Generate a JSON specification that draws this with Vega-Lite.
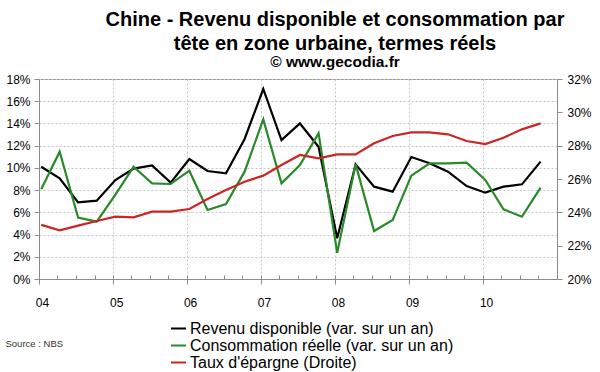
{
  "$schema": "https://vega.github.io/schema/vega-lite/v6.json",
  "width": 518,
  "height": 200,
  "autosize": "none",
  "padding": {"left": 39, "top": 79, "right": 43, "bottom": 93},
  "config": {
    "font": "Liberation Sans",
    "view": {"stroke": "#8c8c8c", "strokeWidth": 1},
    "axis": {
      "labelFont": "Liberation Sans",
      "labelFontSize": 12,
      "labelColor": "#000000",
      "domainColor": "#8c8c8c",
      "tickColor": "#8c8c8c",
      "gridColor": "#c4c4c4",
      "gridDash": [2, 2],
      "gridWidth": 1
    },
    "legend": {
      "labelFont": "Liberation Sans"
    }
  },
  "title": {
    "text": ["Chine - Revenu disponible et consommation par", "tête en zone urbaine, termes réels"],
    "subtitle": "© www.gecodia.fr",
    "anchor": "middle",
    "dx": 37,
    "font": "Liberation Sans",
    "fontSize": 20,
    "fontWeight": "bold",
    "color": "#000000",
    "lineHeight": 24.5,
    "subtitleFont": "Liberation Sans",
    "subtitleFontSize": 15.5,
    "subtitleFontWeight": "bold",
    "subtitleColor": "#000000",
    "subtitlePadding": 0.5,
    "offset": 3
  },
  "data": {
    "values": [
      {"date": "2004-01-12", "serie": "Revenu disponible (var. sur un an)", "axe": "gauche", "valeur": 10.1},
      {"date": "2004-04-12", "serie": "Revenu disponible (var. sur un an)", "axe": "gauche", "valeur": 9.06},
      {"date": "2004-07-12", "serie": "Revenu disponible (var. sur un an)", "axe": "gauche", "valeur": 6.9},
      {"date": "2004-10-12", "serie": "Revenu disponible (var. sur un an)", "axe": "gauche", "valeur": 7.05},
      {"date": "2005-01-12", "serie": "Revenu disponible (var. sur un an)", "axe": "gauche", "valeur": 8.9},
      {"date": "2005-04-12", "serie": "Revenu disponible (var. sur un an)", "axe": "gauche", "valeur": 9.93},
      {"date": "2005-07-12", "serie": "Revenu disponible (var. sur un an)", "axe": "gauche", "valeur": 10.23},
      {"date": "2005-10-12", "serie": "Revenu disponible (var. sur un an)", "axe": "gauche", "valeur": 8.67},
      {"date": "2006-01-12", "serie": "Revenu disponible (var. sur un an)", "axe": "gauche", "valeur": 10.8},
      {"date": "2006-04-12", "serie": "Revenu disponible (var. sur un an)", "axe": "gauche", "valeur": 9.72},
      {"date": "2006-07-12", "serie": "Revenu disponible (var. sur un an)", "axe": "gauche", "valeur": 9.51},
      {"date": "2006-10-12", "serie": "Revenu disponible (var. sur un an)", "axe": "gauche", "valeur": 12.6},
      {"date": "2007-01-12", "serie": "Revenu disponible (var. sur un an)", "axe": "gauche", "valeur": 17.1},
      {"date": "2007-04-12", "serie": "Revenu disponible (var. sur un an)", "axe": "gauche", "valeur": 12.5},
      {"date": "2007-07-12", "serie": "Revenu disponible (var. sur un an)", "axe": "gauche", "valeur": 14.0},
      {"date": "2007-10-12", "serie": "Revenu disponible (var. sur un an)", "axe": "gauche", "valeur": 11.9},
      {"date": "2008-01-12", "serie": "Revenu disponible (var. sur un an)", "axe": "gauche", "valeur": 3.66},
      {"date": "2008-04-12", "serie": "Revenu disponible (var. sur un an)", "axe": "gauche", "valeur": 10.32},
      {"date": "2008-07-12", "serie": "Revenu disponible (var. sur un an)", "axe": "gauche", "valeur": 8.31},
      {"date": "2008-10-12", "serie": "Revenu disponible (var. sur un an)", "axe": "gauche", "valeur": 7.86},
      {"date": "2009-01-12", "serie": "Revenu disponible (var. sur un an)", "axe": "gauche", "valeur": 10.98},
      {"date": "2009-04-12", "serie": "Revenu disponible (var. sur un an)", "axe": "gauche", "valeur": 10.41},
      {"date": "2009-07-12", "serie": "Revenu disponible (var. sur un an)", "axe": "gauche", "valeur": 9.66},
      {"date": "2009-10-12", "serie": "Revenu disponible (var. sur un an)", "axe": "gauche", "valeur": 8.37},
      {"date": "2010-01-12", "serie": "Revenu disponible (var. sur un an)", "axe": "gauche", "valeur": 7.77},
      {"date": "2010-04-12", "serie": "Revenu disponible (var. sur un an)", "axe": "gauche", "valeur": 8.31},
      {"date": "2010-07-12", "serie": "Revenu disponible (var. sur un an)", "axe": "gauche", "valeur": 8.52},
      {"date": "2010-10-12", "serie": "Revenu disponible (var. sur un an)", "axe": "gauche", "valeur": 10.56},

      {"date": "2004-01-12", "serie": "Consommation réelle (var. sur un an)", "axe": "gauche", "valeur": 8.07},
      {"date": "2004-04-12", "serie": "Consommation réelle (var. sur un an)", "axe": "gauche", "valeur": 11.46},
      {"date": "2004-07-12", "serie": "Consommation réelle (var. sur un an)", "axe": "gauche", "valeur": 5.52},
      {"date": "2004-10-12", "serie": "Consommation réelle (var. sur un an)", "axe": "gauche", "valeur": 5.16},
      {"date": "2005-01-12", "serie": "Consommation réelle (var. sur un an)", "axe": "gauche", "valeur": 7.6},
      {"date": "2005-04-12", "serie": "Consommation réelle (var. sur un an)", "axe": "gauche", "valeur": 10.1},
      {"date": "2005-07-12", "serie": "Consommation réelle (var. sur un an)", "axe": "gauche", "valeur": 8.61},
      {"date": "2005-10-12", "serie": "Consommation réelle (var. sur un an)", "axe": "gauche", "valeur": 8.55},
      {"date": "2006-01-12", "serie": "Consommation réelle (var. sur un an)", "axe": "gauche", "valeur": 9.75},
      {"date": "2006-04-12", "serie": "Consommation réelle (var. sur un an)", "axe": "gauche", "valeur": 6.21},
      {"date": "2006-07-12", "serie": "Consommation réelle (var. sur un an)", "axe": "gauche", "valeur": 6.75},
      {"date": "2006-10-12", "serie": "Consommation réelle (var. sur un an)", "axe": "gauche", "valeur": 9.66},
      {"date": "2007-01-12", "serie": "Consommation réelle (var. sur un an)", "axe": "gauche", "valeur": 14.37},
      {"date": "2007-04-12", "serie": "Consommation réelle (var. sur un an)", "axe": "gauche", "valeur": 8.61},
      {"date": "2007-07-12", "serie": "Consommation réelle (var. sur un an)", "axe": "gauche", "valeur": 10.26},
      {"date": "2007-10-12", "serie": "Consommation réelle (var. sur un an)", "axe": "gauche", "valeur": 13.11},
      {"date": "2008-01-12", "serie": "Consommation réelle (var. sur un an)", "axe": "gauche", "valeur": 2.35},
      {"date": "2008-04-12", "serie": "Consommation réelle (var. sur un an)", "axe": "gauche", "valeur": 10.32},
      {"date": "2008-07-12", "serie": "Consommation réelle (var. sur un an)", "axe": "gauche", "valeur": 4.32},
      {"date": "2008-10-12", "serie": "Consommation réelle (var. sur un an)", "axe": "gauche", "valeur": 5.31},
      {"date": "2009-01-12", "serie": "Consommation réelle (var. sur un an)", "axe": "gauche", "valeur": 9.3},
      {"date": "2009-04-12", "serie": "Consommation réelle (var. sur un an)", "axe": "gauche", "valeur": 10.41},
      {"date": "2009-07-12", "serie": "Consommation réelle (var. sur un an)", "axe": "gauche", "valeur": 10.41},
      {"date": "2009-10-12", "serie": "Consommation réelle (var. sur un an)", "axe": "gauche", "valeur": 10.47},
      {"date": "2010-01-12", "serie": "Consommation réelle (var. sur un an)", "axe": "gauche", "valeur": 8.91},
      {"date": "2010-04-12", "serie": "Consommation réelle (var. sur un an)", "axe": "gauche", "valeur": 6.27},
      {"date": "2010-07-12", "serie": "Consommation réelle (var. sur un an)", "axe": "gauche", "valeur": 5.61},
      {"date": "2010-10-12", "serie": "Consommation réelle (var. sur un an)", "axe": "gauche", "valeur": 8.22},

      {"date": "2004-01-12", "serie": "Taux d'épargne (Droite)", "axe": "droite", "valeur": 23.25},
      {"date": "2004-04-12", "serie": "Taux d'épargne (Droite)", "axe": "droite", "valeur": 22.92},
      {"date": "2004-07-12", "serie": "Taux d'épargne (Droite)", "axe": "droite", "valeur": 23.2},
      {"date": "2004-10-12", "serie": "Taux d'épargne (Droite)", "axe": "droite", "valeur": 23.48},
      {"date": "2005-01-12", "serie": "Taux d'épargne (Droite)", "axe": "droite", "valeur": 23.74},
      {"date": "2005-04-12", "serie": "Taux d'épargne (Droite)", "axe": "droite", "valeur": 23.7},
      {"date": "2005-07-12", "serie": "Taux d'épargne (Droite)", "axe": "droite", "valeur": 24.04},
      {"date": "2005-10-12", "serie": "Taux d'épargne (Droite)", "axe": "droite", "valeur": 24.04},
      {"date": "2006-01-12", "serie": "Taux d'épargne (Droite)", "axe": "droite", "valeur": 24.2},
      {"date": "2006-04-12", "serie": "Taux d'épargne (Droite)", "axe": "droite", "valeur": 24.8},
      {"date": "2006-07-12", "serie": "Taux d'épargne (Droite)", "axe": "droite", "valeur": 25.34},
      {"date": "2006-10-12", "serie": "Taux d'épargne (Droite)", "axe": "droite", "valeur": 25.84},
      {"date": "2007-01-12", "serie": "Taux d'épargne (Droite)", "axe": "droite", "valeur": 26.2},
      {"date": "2007-04-12", "serie": "Taux d'épargne (Droite)", "axe": "droite", "valeur": 26.84},
      {"date": "2007-07-12", "serie": "Taux d'épargne (Droite)", "axe": "droite", "valeur": 27.44},
      {"date": "2007-10-12", "serie": "Taux d'épargne (Droite)", "axe": "droite", "valeur": 27.24},
      {"date": "2008-01-12", "serie": "Taux d'épargne (Droite)", "axe": "droite", "valeur": 27.48},
      {"date": "2008-04-12", "serie": "Taux d'épargne (Droite)", "axe": "droite", "valeur": 27.48},
      {"date": "2008-07-12", "serie": "Taux d'épargne (Droite)", "axe": "droite", "valeur": 28.14},
      {"date": "2008-10-12", "serie": "Taux d'épargne (Droite)", "axe": "droite", "valeur": 28.58},
      {"date": "2009-01-12", "serie": "Taux d'épargne (Droite)", "axe": "droite", "valeur": 28.8},
      {"date": "2009-04-12", "serie": "Taux d'épargne (Droite)", "axe": "droite", "valeur": 28.8},
      {"date": "2009-07-12", "serie": "Taux d'épargne (Droite)", "axe": "droite", "valeur": 28.68},
      {"date": "2009-10-12", "serie": "Taux d'épargne (Droite)", "axe": "droite", "valeur": 28.28},
      {"date": "2010-01-12", "serie": "Taux d'épargne (Droite)", "axe": "droite", "valeur": 28.1},
      {"date": "2010-04-12", "serie": "Taux d'épargne (Droite)", "axe": "droite", "valeur": 28.48},
      {"date": "2010-07-12", "serie": "Taux d'épargne (Droite)", "axe": "droite", "valeur": 28.98},
      {"date": "2010-10-12", "serie": "Taux d'épargne (Droite)", "axe": "droite", "valeur": 29.34}
    ]
  },
  "layer": [
    {
      "transform": [{"filter": "datum.axe === 'gauche'"}],
      "mark": {"type": "line", "strokeWidth": 2.2},
      "encoding": {
        "x": {
          "field": "date",
          "type": "temporal",
          "scale": {
            "type": "utc",
            "domain": [
              {"year": 2004, "month": 1, "date": 1, "utc": true},
              {"year": 2011, "month": 1, "date": 1, "utc": true}
            ]
          },
          "axis": {
            "orient": "bottom",
            "values": [
              {"year": 2004, "month": 1, "date": 1, "utc": true},
              {"year": 2005, "month": 1, "date": 1, "utc": true},
              {"year": 2006, "month": 1, "date": 1, "utc": true},
              {"year": 2007, "month": 1, "date": 1, "utc": true},
              {"year": 2008, "month": 1, "date": 1, "utc": true},
              {"year": 2009, "month": 1, "date": 1, "utc": true},
              {"year": 2010, "month": 1, "date": 1, "utc": true}
            ],
            "format": "%y",
            "grid": true,
            "tickSize": 5,
            "labelPadding": 13,
            "labelOffset": 3,
            "labelFlush": false,
            "labelOverlap": false,
            "title": "Source : NBS",
            "titleX": -34,
            "titleY": 64,
            "titleAlign": "left",
            "titleBaseline": "middle",
            "titleAngle": 0,
            "titleFont": "Liberation Sans",
            "titleFontSize": 9.5,
            "titleFontWeight": "normal",
            "titleColor": "#333333"
          }
        },
        "y": {
          "field": "valeur",
          "type": "quantitative",
          "scale": {"domain": [0, 18], "nice": false, "zero": false},
          "axis": {
            "orient": "left",
            "values": [0, 2, 4, 6, 8, 10, 12, 14, 16, 18],
            "labelExpr": "datum.value + '%'",
            "grid": true,
            "tickSize": 5,
            "labelPadding": 4,
            "title": null
          }
        },
        "color": {
          "field": "serie",
          "type": "nominal",
          "scale": {
            "domain": [
              "Revenu disponible (var. sur un an)",
              "Consommation réelle (var. sur un an)",
              "Taux d'épargne (Droite)"
            ],
            "range": ["#000000", "#2a8a2a", "#cc2525"]
          },
          "legend": {
            "orient": "none",
            "legendX": 131,
            "legendY": 241,
            "title": null,
            "symbolType": "stroke",
            "symbolSize": 225,
            "symbolStrokeWidth": 2,
            "labelFontSize": 16,
            "labelColor": "#000000",
            "labelOffset": 3,
            "labelLimit": 400,
            "rowPadding": -2,
            "padding": 0
          }
        }
      }
    },
    {
      "transform": [{"filter": "datum.axe === 'droite'"}],
      "mark": {"type": "line", "strokeWidth": 2.2},
      "encoding": {
        "x": {
          "field": "date",
          "type": "temporal",
          "axis": {
            "orient": "bottom",
            "tickCount": {"interval": "month", "step": 3},
            "labels": false,
            "grid": false,
            "domain": false,
            "tickSize": -4,
            "title": null
          }
        },
        "y": {
          "field": "valeur",
          "type": "quantitative",
          "scale": {"domain": [20, 32], "nice": false, "zero": false},
          "axis": {
            "orient": "right",
            "values": [20, 22, 24, 26, 28, 30, 32],
            "labelExpr": "datum.value + '%'",
            "grid": false,
            "tickSize": 5,
            "labelPadding": 5,
            "title": null
          }
        },
        "color": {"field": "serie", "type": "nominal"}
      }
    }
  ],
  "resolve": {
    "scale": {"y": "independent"},
    "axis": {"x": "independent", "y": "independent"}
  }
}
